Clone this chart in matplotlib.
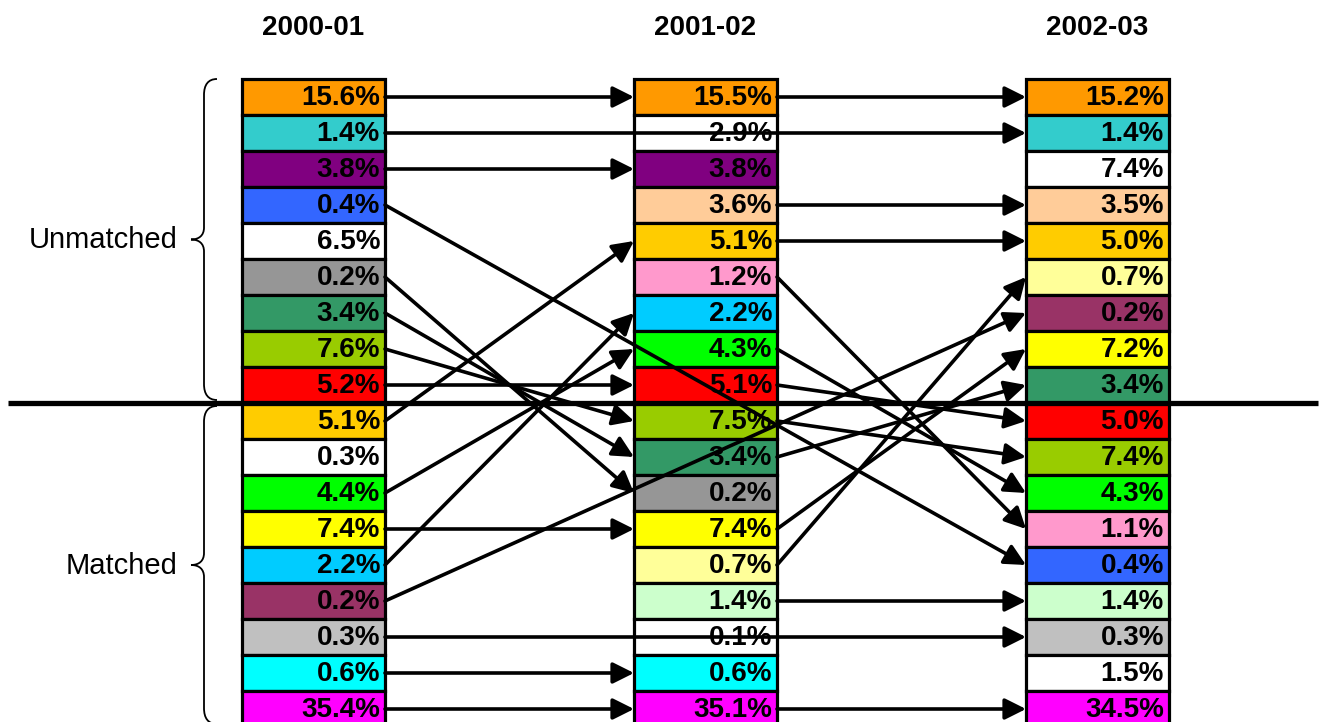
import matplotlib.pyplot as plt
from matplotlib.patches import Rectangle, PathPatch
from matplotlib.path import Path

plt.rcParams["font.family"] = ["Liberation Sans", "DejaVu Sans"]

PERIODS = ["2000-01", "2001-02", "2002-03"]

# category key of each cell, top to bottom (white cells are unlinked "other" groups)
CATS_2000 = ["orange", "teal", "purple", "blue", "other1", "gray", "green", "lime", "red",
             "gold", "other2", "bgreen", "yellow", "sky", "plum", "silver", "cyan", "magenta"]
CATS_2001 = ["orange", "other3", "purple", "peach", "gold", "pink", "sky", "bgreen", "red",
             "lime", "green", "gray", "yellow", "lyellow", "lgreen", "other4", "cyan", "magenta"]
CATS_2002 = ["orange", "teal", "other5", "peach", "gold", "lyellow", "plum", "yellow", "green",
             "red", "lime", "bgreen", "pink", "blue", "lgreen", "silver", "other6", "magenta"]

SHARE_2000 = [15.6, 1.4, 3.8, 0.4, 6.5, 0.2, 3.4, 7.6, 5.2, 5.1, 0.3, 4.4, 7.4, 2.2, 0.2, 0.3, 0.6, 35.4]
SHARE_2001 = [15.5, 2.9, 3.8, 3.6, 5.1, 1.2, 2.2, 4.3, 5.1, 7.5, 3.4, 0.2, 7.4, 0.7, 1.4, 0.1, 0.6, 35.1]
SHARE_2002 = [15.2, 1.4, 7.4, 3.5, 5.0, 0.7, 0.2, 7.2, 3.4, 5.0, 7.4, 4.3, 1.1, 0.4, 1.4, 0.3, 1.5, 34.5]

N_UNMATCHED = 9  # first 9 rows are "Unmatched", the rest "Matched"

COLORS = {
    "orange": "#FF9900", "teal": "#33CCCC", "purple": "#800080", "blue": "#3366FF",
    "gray": "#969696", "green": "#339966", "lime": "#99CC00", "red": "#FF0000",
    "gold": "#FFCC00", "bgreen": "#00FF00", "yellow": "#FFFF00", "sky": "#00CCFF",
    "plum": "#993366", "silver": "#C0C0C0", "cyan": "#00FFFF", "magenta": "#FF00FF",
    "peach": "#FFCC99", "pink": "#FF99CC", "lyellow": "#FFFF99", "lgreen": "#CCFFCC",
}

cats = [CATS_2000, CATS_2001, CATS_2002]
shares = [SHARE_2000, SHARE_2001, SHARE_2002]

# layout in pixels
X0, COL_STEP, COL_W = 242, 392, 143
Y0, ROW_H = 79, 36


def row_center(r):
    return Y0 + ROW_H * r + ROW_H / 2


def brace(ax, top, bot, x=204, tip=191, end=217):
    mid = (top + bot) / 2
    verts = [
        (end, top), (x + 4, top), (x, top + 6), (x, top + 16),
        (x, mid - 12),
        (x, mid - 4), (x - 5, mid), (tip, mid),
        (x - 5, mid), (x, mid + 4), (x, mid + 12),
        (x, bot - 16),
        (x, bot - 6), (x + 4, bot), (end, bot),
    ]
    codes = [Path.MOVETO, Path.CURVE4, Path.CURVE4, Path.CURVE4,
             Path.LINETO,
             Path.CURVE4, Path.CURVE4, Path.CURVE4,
             Path.CURVE4, Path.CURVE4, Path.CURVE4,
             Path.LINETO,
             Path.CURVE4, Path.CURVE4, Path.CURVE4]
    ax.add_patch(PathPatch(Path(verts, codes), fill=False, lw=1.3, color="black", zorder=2))
    return mid


fig = plt.figure(figsize=(13.2, 7.22), dpi=100)
ax = fig.add_axes([0, 0, 1, 1])
ax.set_xlim(0, 1320)
ax.set_ylim(722, 0)
ax.axis("off")

for c, (col_cats, col_vals) in enumerate(zip(cats, shares)):
    left = X0 + COL_STEP * c
    ax.text(left + COL_W / 2, 28, PERIODS[c], ha="center", va="center",
            fontsize=20, fontweight="bold")
    for r, (key, val) in enumerate(zip(col_cats, col_vals)):
        ax.add_patch(Rectangle((left, Y0 + ROW_H * r), COL_W, ROW_H,
                               facecolor=COLORS.get(key, "white"), edgecolor="black",
                               lw=2.3, zorder=1))
        ax.text(left + COL_W - 5, row_center(r) + 1, f"{val:.1f}%", ha="right", va="center",
                fontsize=20, fontweight="bold", zorder=3)

# arrows: each cell links to the next period that has the same category
for c in range(len(cats) - 1):
    for r, key in enumerate(cats[c]):
        if key.startswith("other"):
            continue
        for c2 in range(c + 1, len(cats)):
            if key in cats[c2]:
                r2 = cats[c2].index(key)
                ax.annotate("", xy=(X0 + COL_STEP * c2, row_center(r2)),
                            xytext=(X0 + COL_STEP * c + COL_W, row_center(r)),
                            arrowprops=dict(arrowstyle="-|>", color="black", lw=2.6,
                                            mutation_scale=32, shrinkA=0, shrinkB=0),
                            zorder=4)
                break

split_y = Y0 + ROW_H * N_UNMATCHED
ax.plot([8, 1318], [split_y, split_y], color="black", lw=3.8, zorder=5, solid_capstyle="butt")

m1 = brace(ax, Y0, split_y - 3)
m2 = brace(ax, split_y + 3, Y0 + ROW_H * len(CATS_2000) - 3)
ax.text(178, m1 + 1, "Unmatched", ha="right", va="center", fontsize=21)
ax.text(178, m2 + 1, "Matched", ha="right", va="center", fontsize=21)

fig.savefig("out.png", dpi=100)
